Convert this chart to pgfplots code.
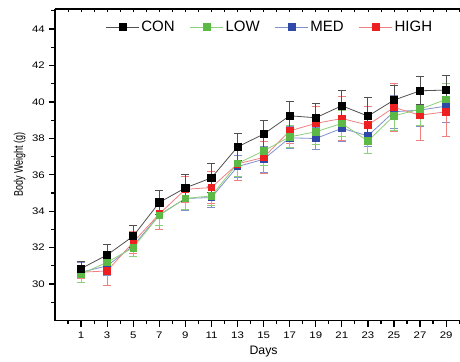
\documentclass[border=0pt]{standalone}
\usepackage{fontspec}
\setmainfont{Liberation Sans}
\usepackage{pgfplots}
\pgfplotsset{compat=1.18}
\usepackage{pgfplotstable}
\definecolor{conM}{RGB}{0,0,0}
\definecolor{conL}{RGB}{80,80,80}
\definecolor{lowM}{RGB}{92,185,70}
\definecolor{lowL}{RGB}{140,208,122}
\definecolor{medM}{RGB}{48,72,168}
\definecolor{medL}{RGB}{128,144,204}
\definecolor{highM}{RGB}{236,32,32}
\definecolor{highL}{RGB}{240,128,128}
\pgfplotstableread{
day con cone low lowe med mede high highe
1  30.85 0.40 30.55 0.45 30.65 0.55 30.65 0.35
3  31.60 0.60 31.20 0.50 31.00 0.50 30.72 0.80
5  32.63 0.60 32.00 0.50 32.10 0.60 32.30 0.60
7  34.48 0.67 33.78 0.55 33.80 0.60 33.85 0.85
9  35.28 0.75 34.70 0.60 34.70 0.65 35.20 0.70
11 35.83 0.80 34.84 0.50 34.75 0.55 35.30 0.90
13 37.53 0.73 36.62 0.70 36.45 0.60 36.60 0.90
15 38.23 0.73 37.31 0.80 36.85 0.70 36.95 0.90
17 39.24 0.80 38.08 0.60 38.03 0.60 38.41 0.70
19 39.13 0.80 38.36 0.70 37.99 0.60 38.82 0.95
21 39.79 0.85 38.82 0.70 38.55 0.70 39.09 1.20
23 39.22 1.00 37.85 0.70 38.14 0.60 38.73 1.00
25 40.10 0.80 39.24 0.80 39.46 0.90 39.70 1.30
27 40.61 0.77 39.60 0.90 39.55 0.90 39.27 1.37
29 40.65 0.82 40.14 0.90 39.77 0.90 39.46 1.34
}\data
\begin{document}
\begin{tikzpicture}
\useasboundingbox (-55pt,-41pt) rectangle (405pt,320.5pt);
\begin{axis}[
  at={(0,0)}, anchor=south west,
  scale only axis, width=417.2pt, height=311.5pt,
  xmin=-1, xmax=31, ymin=28, ymax=45.1,
  axis x line*=bottom, axis y line*=left,
  axis line style={line width=1.6pt, black},
  xtick={1,3,...,29}, minor xtick={0,2,...,30},
  ytick={30,32,...,44}, minor ytick={29,31,...,45},
  tick align=outside, major tick length=6pt, minor tick length=3.5pt,
  every tick/.style={black, line width=1.2pt},
  /pgf/number format/assume math mode=true,
  ticklabel style={font=\fontsize{9.5}{11}\selectfont, xscale=1.2},
  xticklabel style={yshift=-2pt},
  xlabel={Days}, ylabel={Body Weight (g)},
  xlabel style={font=\fontsize{12.3}{14}\selectfont, yshift=0pt},
  ylabel style={font=\fontsize{12.5}{14}\selectfont, xscale=0.72, yshift=-1pt},
  legend columns=4,
  legend style={draw=none, fill=none, at={(0.515,0.942)}, anchor=center,
    font=\fontsize{15}{18}\selectfont, /tikz/every even column/.append style={column sep=13pt}},
  legend image code/.code={\draw[mark repeat=2,mark phase=2] plot coordinates {(0pt,0pt) (16.5pt,0pt) (33pt,0pt)};},
  clip=false,
]
\draw[line width=1.6pt] (rel axis cs:0,1) -- (rel axis cs:1,1);
\pgfplotsinvokeforeach{-1,0,...,31}{\draw[line width=0.8pt] (axis cs:#1,45.1) -- ([yshift=-3pt]axis cs:#1,45.1);}
\addlegendimage{conL, line width=0.8pt, mark=square*, mark size=3.5pt, mark options={fill=conM, draw=conM}}
\addlegendentry{CON}
\addlegendimage{lowL, line width=0.8pt, mark=square*, mark size=3.5pt, mark options={fill=lowM, draw=lowM}}
\addlegendentry{LOW}
\addlegendimage{medL, line width=0.8pt, mark=square*, mark size=3.5pt, mark options={fill=medM, draw=medM}}
\addlegendentry{MED}
\addlegendimage{highL, line width=0.8pt, mark=square*, mark size=3.5pt, mark options={fill=highM, draw=highM}}
\addlegendentry{HIGH}

\addplot[medL, line width=0.8pt, mark=square*, mark size=3.3pt, mark options={fill=medM, draw=medM},
  error bars/.cd, y dir=both, y explicit, error bar style={medL, line width=0.9pt}, error mark options={rotate=90, mark size=4pt, medL, line width=0.9pt}]
  table[x=day, y=med, y error=mede] {\data};
\addplot[highL, line width=0.8pt, mark=square*, mark size=3.3pt, mark options={fill=highM, draw=highM},
  error bars/.cd, y dir=both, y explicit, error bar style={highL, line width=0.9pt}, error mark options={rotate=90, mark size=4pt, highL, line width=0.9pt}]
  table[x=day, y=high, y error=highe] {\data};
\addplot[lowL, line width=0.8pt, mark=square*, mark size=3.3pt, mark options={fill=lowM, draw=lowM},
  error bars/.cd, y dir=both, y explicit, error bar style={lowL, line width=0.9pt}, error mark options={rotate=90, mark size=4pt, lowL, line width=0.9pt}]
  table[x=day, y=low, y error=lowe] {\data};
\addplot[conL, line width=0.8pt, mark=square*, mark size=3.6pt, mark options={fill=conM, draw=conM},
  error bars/.cd, y dir=both, y explicit, error bar style={conL, line width=0.9pt}, error mark options={rotate=90, mark size=4pt, conL, line width=0.9pt}]
  table[x=day, y=con, y error=cone] {\data};
\end{axis}
\end{tikzpicture}
\end{document}
